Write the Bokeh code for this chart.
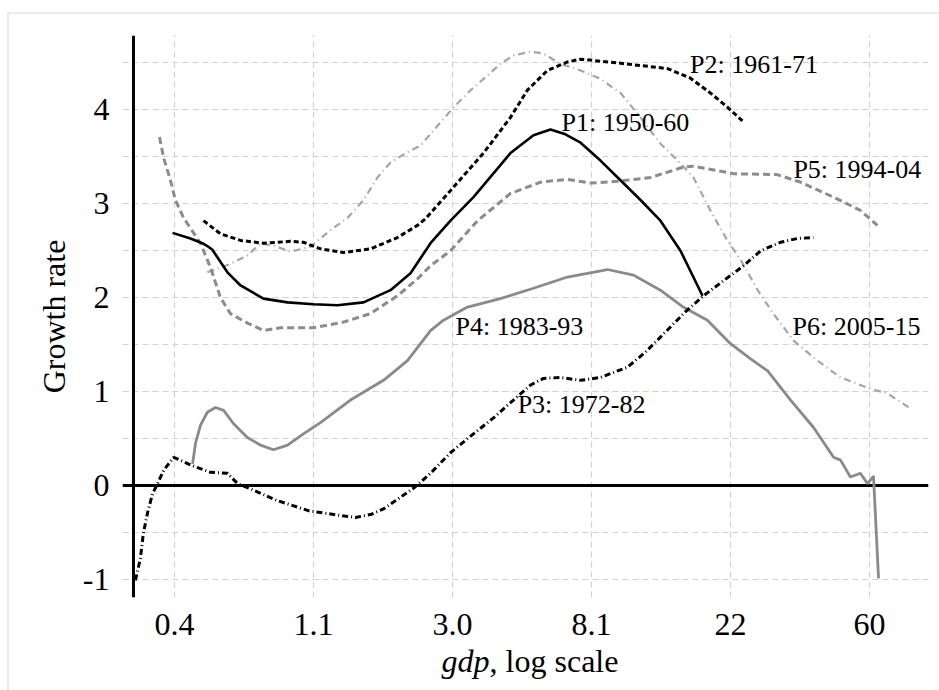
import numpy as np
from bokeh.plotting import figure
from bokeh.layouts import column
from bokeh.models import (Range1d, FixedTicker, CustomJSTickFormatter, Span, Div,
                          ColumnDataSource)
from bokeh.core.properties import value
from bokeh.embed import file_html
from bokeh.resources import INLINE

# ---------------- data ----------------
# x axis: gdp (log scale); ticks sit at ln(gdp) = -0.9, 0.1, ... 4.1
tick_log = [-0.9, 0.1, 1.1, 2.1, 3.1, 4.1]
tick_labels = ["0.4", "1.1", "3.0", "8.1", "22", "60"]
y_ticks = [-1, 0, 1, 2, 3, 4]

p1_gdp = [0.401, 0.456, 0.497, 0.515, 0.534, 0.595, 0.654, 0.771, 0.917, 1.105, 1.314, 1.584,
          1.923, 2.221, 2.565, 2.962, 3.494, 4.56, 5.38, 6.08, 6.77, 7.55, 8.71, 10.06, 11.62,
          13.41, 15.49, 18.15]
p1_g = [2.69, 2.63, 2.58, 2.55, 2.51, 2.27, 2.13, 1.99, 1.95, 1.93, 1.92, 1.95,
        2.08, 2.26, 2.58, 2.82, 3.07, 3.54, 3.73, 3.79, 3.74, 3.65, 3.46, 3.25, 3.04,
        2.82, 2.50, 2.02]

p2_gdp = [0.501, 0.566, 0.654, 0.771, 0.937, 1.028, 1.162, 1.371, 1.665, 2.022, 2.335, 2.474,
          2.962, 3.756, 4.56, 5.15, 5.95, 6.87, 7.55, 9.85, 14.1, 16.6, 19.2, 21.7, 24.4]
p2_g = [2.82, 2.68, 2.61, 2.58, 2.60, 2.59, 2.52, 2.48, 2.52, 2.64, 2.77, 2.84,
        3.14, 3.54, 3.92, 4.21, 4.42, 4.51, 4.54, 4.50, 4.44, 4.34, 4.18, 4.03, 3.87]

p3_gdp = [0.307, 0.318, 0.325, 0.335, 0.347, 0.360, 0.376, 0.404, 0.463, 0.527, 0.595, 0.640,
          0.718, 0.850, 1.070, 1.342, 1.495, 1.665, 1.829, 2.268, 2.565, 2.962, 3.494, 4.035,
          4.66, 5.27, 5.78, 6.53, 7.55, 8.71, 10.58, 12.04, 13.41, 16.05, 18.28, 21.1, 24.4,
          27.6, 31.8, 35.9, 40.3]
p3_g = [-1.01, -0.78, -0.51, -0.29, -0.09, 0.02, 0.16, 0.30, 0.21, 0.14, 0.13, 0.02,
        -0.05, -0.16, -0.27, -0.32, -0.34, -0.31, -0.25, -0.03, 0.13, 0.35, 0.55, 0.72,
        0.91, 1.07, 1.14, 1.15, 1.12, 1.15, 1.26, 1.42, 1.58, 1.85, 2.02, 2.18, 2.34,
        2.50, 2.59, 2.63, 2.64]

p4_gdp = [0.463, 0.473, 0.490, 0.515, 0.546, 0.579, 0.621, 0.687, 0.755, 0.829, 0.917, 1.028,
          1.162, 1.442, 1.829, 2.173, 2.565, 2.815, 3.347, 4.24, 5.38, 6.87, 9.16, 11.05,
          13.41, 15.8, 18.8, 22.2, 25.6, 29.0, 34.2, 40.3, 46.6, 49.0, 52.6, 56.5, 59.5,
          62.1, 64.4]
p4_g = [0.23, 0.45, 0.64, 0.78, 0.83, 0.80, 0.66, 0.51, 0.43, 0.38, 0.43, 0.55,
        0.67, 0.91, 1.12, 1.33, 1.65, 1.76, 1.90, 1.99, 2.10, 2.22, 2.30, 2.24,
        2.08, 1.90, 1.76, 1.51, 1.35, 1.22, 0.91, 0.62, 0.30, 0.27, 0.09, 0.13, 0.02,
        0.10, -0.99]

p5_gdp = [0.365, 0.376, 0.395, 0.409, 0.434, 0.490, 0.527, 0.566, 0.608, 0.687, 0.771, 0.872,
          1.105, 1.371, 1.665, 2.022, 2.335, 2.565, 2.962, 3.60, 4.56, 5.66, 6.87, 8.11,
          9.85, 12.5, 15.8, 17.0, 22.7, 31.1, 36.7, 46.6, 56.5, 63.9]
p5_g = [3.71, 3.49, 3.25, 3.04, 2.85, 2.58, 2.32, 2.00, 1.83, 1.73, 1.65, 1.68,
        1.68, 1.74, 1.83, 2.02, 2.20, 2.34, 2.50, 2.82, 3.11, 3.23, 3.26, 3.22,
        3.24, 3.28, 3.39, 3.40, 3.32, 3.31, 3.23, 3.07, 2.93, 2.77]

p6_gdp = [0.515, 0.608, 0.687, 0.755, 0.853, 0.937, 1.081, 1.249, 1.412, 1.584, 1.751, 1.923,
          2.173, 2.387, 2.620, 2.962, 3.347, 3.756, 4.24, 4.66, 5.27, 5.78, 6.53, 7.55,
          8.71, 10.06, 11.62, 13.41, 15.49, 17.0, 19.2, 21.7, 23.9, 27.0, 30.2, 35.0,
          41.5, 49.0, 59.5, 68.7, 81.0]
p6_g = [2.27, 2.36, 2.45, 2.58, 2.54, 2.49, 2.54, 2.72, 2.85, 3.04, 3.28, 3.44,
        3.55, 3.62, 3.78, 3.99, 4.18, 4.33, 4.49, 4.58, 4.62, 4.60, 4.49, 4.42,
        4.33, 4.18, 3.92, 3.64, 3.43, 3.28, 2.93, 2.61, 2.40, 2.08, 1.83, 1.54,
        1.33, 1.15, 1.04, 0.98, 0.82]

label_text = ["P1: 1950-60", "P2: 1961-71", "P3: 1972-82", "P4: 1983-93", "P5: 1994-04", "P6: 2005-15"]
label_gdp = [6.58, 16.6, 4.80, 3.07, 34.9, 34.7]
label_g = [3.87, 4.48, 0.86, 1.69, 3.365, 1.69]

# ---------------- figure ----------------
FONT = "Liberation Serif"
GRID = "#d2d2d2"

p = figure(width=930, height=626, x_axis_type="log",
           x_range=Range1d(np.exp(-1.274), np.exp(4.5245)),
           y_range=Range1d(-1.193, 4.792),
           output_backend="svg", toolbar_location=None,
           min_border_left=113, min_border_right=11, min_border_top=21, min_border_bottom=43)
p.outline_line_color = None
p.background_fill_color = "white"
p.border_fill_color = "white"

tick_vals = [float(np.exp(t)) for t in tick_log]
p.xaxis.ticker = FixedTicker(ticks=tick_vals, minor_ticks=[])
p.xaxis.formatter = CustomJSTickFormatter(args=dict(vals=tick_vals, labels=tick_labels), code="""
    let best = 0, bd = Infinity;
    for (let i = 0; i < vals.length; i++) {
        const d = Math.abs(Math.log(vals[i]) - Math.log(tick));
        if (d < bd) { bd = d; best = i; }
    }
    return labels[best];
""")
p.xgrid.ticker = FixedTicker(ticks=tick_vals, minor_ticks=[])

minor_y = [v / 2 for v in range(-2, 10)]
p.yaxis.ticker = FixedTicker(ticks=y_ticks, minor_ticks=minor_y)
p.yaxis.formatter = CustomJSTickFormatter(code="return String(Math.round(tick));")
p.ygrid.ticker = FixedTicker(ticks=y_ticks, minor_ticks=minor_y)

for g in (p.xgrid, p.ygrid):
    g.grid_line_color = GRID
    g.grid_line_dash = "6 4"
    g.grid_line_width = 1.2
p.ygrid.minor_grid_line_color = GRID
p.ygrid.minor_grid_line_dash = "6 4"
p.ygrid.minor_grid_line_width = 1.2

for ax in (p.xaxis, p.yaxis):
    ax.axis_line_color = None
    ax.major_tick_line_color = None
    ax.minor_tick_line_color = None
    ax.major_label_text_font = FONT
    ax.major_label_text_font_size = "32px"
    ax.major_label_text_color = "black"
p.xaxis.major_label_standoff = 10
p.yaxis.major_label_standoff = 7
p.yaxis.axis_label = "Growth rate"
p.yaxis.axis_label_text_font = FONT
p.yaxis.axis_label_text_font_size = "32px"
p.yaxis.axis_label_text_font_style = "normal"
p.yaxis.axis_label_text_color = "black"
p.yaxis.axis_label_standoff = 8

# y axis line and zero line
p.add_layout(Span(location=float(np.exp(-1.195)), dimension="height", line_color="black",
                  line_width=3, level="underlay"))
p.add_layout(Span(location=0, dimension="width", line_color="black", line_width=3,
                  level="underlay"))

# curves
p.line(p6_gdp, p6_g, line_color="#a6a6a6", line_width=2.2, line_dash="7 4 1 4")
p.line(p5_gdp, p5_g, line_color="#8c8c8c", line_width=3, line_dash="7 4")
p.line(p4_gdp, p4_g, line_color="#8a8a8a", line_width=2.8)
p.line(p3_gdp, p3_g, line_color="black", line_width=3, line_dash="6 3 1 3")
p.line(p2_gdp, p2_g, line_color="black", line_width=3, line_dash="5 3")
p.line(p1_gdp, p1_g, line_color="black", line_width=2.6)

src = ColumnDataSource(dict(x=label_gdp, y=label_g, t=label_text))
p.text(x="x", y="y", text="t", source=src, text_font=value(FONT), text_font_size="26px",
       text_color="black", text_baseline="middle", text_align="left")

# x axis title: italic "gdp" + ", log scale"
xtitle = Div(width=930, height=50,
             text=('<div style="margin-left:113px;width:806px;text-align:center;'
                   "font-family:'Liberation Serif';font-size:32px;line-height:32px;"
                   'color:#000;white-space:nowrap"><i>gdp</i>, log scale</div>'))

layout = column(p, xtitle, spacing=0, margin=(12, 0, 0, 7),
                styles={"border-left": "2px solid #e6ecef", "border-top": "2px solid #e6ecef",
                        "background": "white"})

open("out.html", "w").write(file_html(layout, INLINE))
